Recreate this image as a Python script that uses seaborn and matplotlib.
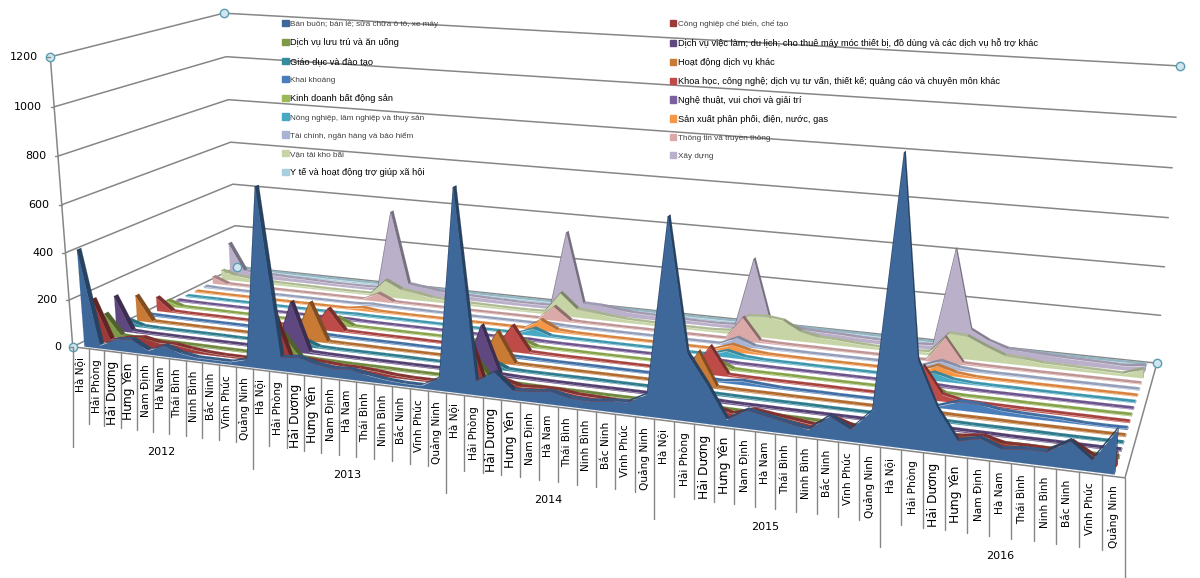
import numpy as np
import matplotlib
matplotlib.use("Agg")
import matplotlib.pyplot as plt
import matplotlib.patches as mpatches
from mpl_toolkits.mplot3d.art3d import Poly3DCollection
from mpl_toolkits.mplot3d import proj3d
import seaborn as sns

years = ['2012', '2013', '2014', '2015', '2016']
provinces = ['Hà Nội', 'Hải Phòng', 'Hải Dương', 'Hưng Yên', 'Nam Định', 'Hà Nam',
             'Thái Bình', 'Ninh Bình', 'Bắc Ninh', 'Vĩnh Phúc', 'Quảng Ninh']
value_ticks = [0, 200, 400, 600, 800, 1000, 1200]

series_names = [
    'Bán buôn; bán lẻ; sửa chữa ô tô, xe máy',
    'Công nghiệp chế biến, chế tạo',
    'Dịch vụ lưu trú và ăn uống',
    'Dịch vụ việc làm; du lịch; cho thuê máy móc thiết bị, đồ dùng và các dịch vụ hỗ trợ khác',
    'Giáo dục và đào tạo',
    'Hoạt động dịch vụ khác',
    'Khai khoáng',
    'Khoa học, công nghệ; dịch vụ tư vấn, thiết kế; quảng cáo và chuyên môn khác',
    'Kinh doanh bất động sản',
    'Nghệ thuật, vui chơi và giải trí',
    'Nông nghiệp, lâm nghiệp và thuỷ sản',
    'Sản xuất phân phối, điện, nước, gas',
    'Tài chính, ngân hàng và bảo hiểm',
    'Thông tin và truyền thông',
    'Vận tải kho bãi',
    'Xây dựng',
    'Y tế và hoạt động trợ giúp xã hội',
]
series_colors = ['#3f689a', '#9c3b39', '#7e9a47', '#5f4880', '#348ca0', '#c97a35',
                 '#4a7ebb', '#be4b48', '#98b954', '#7d60a0', '#46aac5', '#f79646',
                 '#a7b4d3', '#dba9a8', '#c7d5a6', '#bbb0ca', '#a7cfde']

# values, 11 provinces per year
wholesale = [410,12,45,55,15,45,20,10,10,10,30, 740,55,65,45,35,40,25,15,10,10,50, 805,55,100,35,40,50,33,30,40,45,85, 765,260,150,25,70,55,40,25,85,45,125, 1060,330,160,50,70,40,50,50,100,40,160]
manufacturing = [180,12,30,40,25,25,15,8,5,5,5, 230,25,30,25,20,20,15,8,5,5,10, 260,25,45,25,30,30,20,18,15,15,15, 220,60,40,20,45,35,25,15,50,25,40, 210,50,35,40,50,30,32,30,70,25,45]
accommodation = [95,8,4,3,3,3,3,2,2,2,3, 100,8,5,4,3,3,3,2,2,2,3, 100,8,5,4,3,3,3,2,2,2,4, 60,8,5,4,3,3,3,2,2,2,4, 70,9,6,4,3,3,3,3,3,3,5]
employment = [150,6,3,3,2,2,2,2,2,2,2, 210,6,4,3,2,2,2,2,2,2,2, 200,7,4,3,2,2,2,2,2,2,3, 150,8,4,3,3,2,2,2,2,2,3, 120,8,4,3,3,2,2,2,2,2,3]
education = [25,4,2,2,2,2,2,1,1,1,2, 30,4,2,2,2,2,2,1,1,1,2, 35,4,2,2,2,2,2,1,1,1,2, 35,4,3,2,2,2,2,1,1,1,2, 30,4,3,2,2,2,2,1,1,1,2]
other_services = [110,3,2,2,1,1,1,1,1,1,1, 165,3,2,2,1,1,1,1,1,1,1, 130,3,2,2,1,1,1,1,1,1,2, 140,4,2,2,2,1,1,1,1,1,2, 100,4,2,2,2,1,1,1,1,1,2]
mining = [4,3,2,2,2,2,2,1,1,1,2, 5,3,2,2,2,2,1,1,1,1,3, 5,4,3,2,2,2,1,1,1,1,3, 6,4,14,8,3,2,2,1,1,1,4, 6,5,32,30,16,12,10,8,3,2,3]
science = [60,4,2,2,2,1,1,1,1,1,2, 95,4,3,2,2,2,1,1,1,1,2, 110,5,3,2,2,2,1,1,1,1,2, 115,5,3,2,2,2,2,1,1,1,2, 130,25,8,6,5,4,4,3,3,2,2]
real_estate = [25,3,2,2,1,1,1,1,1,1,2, 35,3,2,2,1,1,1,1,1,1,2, 30,4,2,2,1,1,1,1,1,1,2, 35,4,2,2,2,1,1,1,1,1,2, 35,4,2,2,2,1,1,1,1,1,2]
arts = [4,2,1,1,1,1,1,1,1,1,1, 5,2,1,1,1,1,1,1,1,1,1, 5,2,1,1,1,1,1,1,1,1,1, 6,2,2,1,1,1,1,1,1,1,1, 7,3,2,1,1,1,1,1,1,1,1]
agriculture = [3,2,2,1,1,1,1,1,1,1,1, 4,2,2,2,1,1,1,1,1,1,1, 30,4,2,2,1,1,1,1,1,1,1, 25,8,3,2,2,1,1,1,1,1,1, 30,10,3,2,2,1,1,1,1,1,1]
utilities = [3,2,1,1,1,1,1,1,1,1,1, 12,3,2,1,1,1,1,1,1,1,1, 45,8,3,2,1,1,1,1,1,1,1, 28,10,3,2,1,1,1,1,1,1,1, 35,12,4,2,2,1,1,1,1,1,1]
finance = [5,2,2,1,1,1,1,1,1,1,1, 6,3,2,2,1,1,1,1,1,1,1, 7,3,2,2,1,1,1,1,1,1,1, 35,6,2,2,1,1,1,1,1,1,1, 30,10,3,2,2,1,1,1,1,1,1]
information = [30,3,2,2,1,1,1,1,1,1,1, 35,3,2,2,1,1,1,1,1,1,1, 60,4,2,2,1,1,1,1,1,1,1, 100,6,3,2,2,1,1,1,1,1,1, 105,5,3,2,2,1,1,1,1,1,1]
transport = [40,22,14,10,8,7,6,5,5,5,6, 75,40,30,16,12,10,8,7,6,6,8, 100,35,28,18,12,10,8,7,7,7,12, 85,90,80,40,24,20,14,10,9,8,12, 100,95,60,30,25,15,14,12,10,8,35]
construction = [150,25,20,18,15,14,12,10,10,10,12, 370,45,35,25,20,18,15,14,12,12,14, 350,40,38,28,20,18,16,14,12,12,15, 310,45,35,25,22,20,16,14,13,13,18, 430,100,60,35,30,26,22,20,18,15,25]
health = [14,10,8,7,6,6,5,5,5,5,5, 16,10,8,7,6,6,5,5,5,5,6, 16,10,8,7,6,6,5,5,5,5,6, 18,11,9,8,7,6,6,5,5,5,6, 20,12,9,8,7,6,6,5,5,5,6]

all_series = [wholesale, manufacturing, accommodation, employment, education, other_services,
              mining, science, real_estate, arts, agriculture, utilities, finance,
              information, transport, construction, health]

GRID = '#868686'
RIBBON = 0.2  # half depth of one area ribbon
W, H = 1200, 578
n_cat = len(years) * len(provinces)
n_ser = len(all_series)
x_lo, x_hi = -0.5, n_cat - 0.5
y_lo, y_hi = -0.5, n_ser - 0.5
z_hi = value_ticks[-1]

# corners of the chart box and where they sit in the picture, to get Excel's camera
box = [(x_lo, y_lo, 0), (x_hi, y_lo, 0), (x_hi, y_hi, 0), (x_lo, y_hi, 0),
       (x_lo, y_lo, z_hi), (x_lo, y_hi, z_hi), (x_hi, y_hi, z_hi)]
box_px = [(73, 346.5), (1125, 478), (1157, 363), (237, 267),
          (50, 57), (224, 13), (1180, 66)]


def camera():
    norm = np.diag([1 / n_cat, 1 / n_ser, 1 / z_hi, 1.0])
    rows = []
    for (x, y, z), (u, v) in zip(box, box_px):
        p = norm @ np.array([x, y, z, 1.0])
        rows.append(np.r_[p, 0, 0, 0, 0, -u * p])
        rows.append(np.r_[0, 0, 0, 0, p, -v * p])
    P = np.linalg.svd(np.array(rows))[2][-1].reshape(3, 4) @ norm
    return np.vstack([P[0], P[1], [0, 1, 0, 0], P[2]])


sns.set_theme(style='white')
plt.rcParams['font.family'] = ['DejaVu Sans']
palette = sns.color_palette(series_colors)

fig = plt.figure(figsize=(W / 100, H / 100), dpi=100)
ax = fig.add_axes([0, (H - W) / 2 / H, 1, W / H], projection='3d', proj_type='ortho')
ax.set_axis_off()
ax.computed_zorder = False
M = camera()
ax.get_proj = lambda: M
ax.viewLim.intervalx = (0, W)
ax.viewLim.intervaly = ((H + W) / 2, (H - W) / 2)

# walls
for z in value_ticks:
    ax.plot([x_lo, x_lo, x_hi], [y_lo, y_hi, y_hi], [z, z, z], color=GRID, lw=1.1, zorder=1)
ax.plot([x_lo, x_lo], [y_lo, y_lo], [0, z_hi], color=GRID, lw=1.1, zorder=1)
ax.plot([x_lo, x_hi, x_hi], [y_lo, y_lo, y_hi], [0, 0, 0], color=GRID, lw=1.1, zorder=1)

xs = np.arange(n_cat)
for i in range(n_ser - 1, -1, -1):
    vals = np.array(all_series[i], dtype=float)
    col = np.array(palette[i])
    y0, y1 = i - RIBBON, i + RIBBON
    base = 10 + 3 * (n_ser - i)

    tops, cols = [], []
    for k in range(n_cat - 1):
        tops.append([(xs[k], y0, vals[k]), (xs[k + 1], y0, vals[k + 1]),
                     (xs[k + 1], y1, vals[k + 1]), (xs[k], y1, vals[k])])
        steep = min(abs(vals[k + 1] - vals[k]) / 60, 1)
        cols.append(tuple(col * (0.88 - 0.25 * steep)))
    top = Poly3DCollection(tops, facecolors=cols, edgecolors=cols, linewidths=0.1)
    top.set_zorder(base)
    ax.add_collection3d(top)

    cap_col = tuple(col * 0.6)
    cap = Poly3DCollection([[(xs[-1], y0, 0), (xs[-1], y1, 0), (xs[-1], y1, vals[-1]), (xs[-1], y0, vals[-1])]],
                           facecolors=[cap_col], edgecolors=[cap_col], linewidths=0.1)
    cap.set_zorder(base)
    ax.add_collection3d(cap)

    outline = [(xs[0], y0, 0)] + [(x, y0, v) for x, v in zip(xs, vals)] + [(xs[-1], y0, 0)]
    face = tuple(col)
    front = Poly3DCollection([outline], facecolors=[face], edgecolors=[face], linewidths=0.1)
    front.set_zorder(base + 1)
    ax.add_collection3d(front)

# selection handles on the corners
hx, hy, hz = zip(box[0], box[2], box[3], box[4], box[5], box[6])
ax.plot(hx, hy, hz, ls='none', marker='o', ms=6, mfc='#cfe6ef', mec='#5b9cb3', mew=1, zorder=500)


def screen(x, y, z):
    u, v, _ = proj3d.proj_transform(x, y, z, M)
    return u, v


# flat overlay in picture pixels for the 2D axis furniture
ov = fig.add_axes([0, 0, 1, 1])
ov.set_xlim(0, W)
ov.set_ylim(H, 0)
ov.axis('off')
ov.patch.set_alpha(0)

for z in value_ticks:
    u, v = screen(x_lo, y_lo, z)
    ov.text(u - 12, v, str(z), ha='right', va='center', fontsize=8, color='black')
    ov.plot([u - 3, u], [v, v], color=GRID, lw=1)

for k in range(n_cat + 1):
    u, v = screen(k - 0.5, y_lo, 0)
    length = 100 if k % len(provinces) == 0 else 75
    ov.plot([u, u], [v, v + length], color=GRID, lw=1)
label_size = {'Hải Dương': 8.8, 'Hưng Yên': 8.8}
for k in range(n_cat):
    u, v = screen(k, y_lo, 0)
    name = provinces[k % len(provinces)]
    ov.text(u, v + 9, name, rotation=90, ha='center', va='top',
            fontsize=label_size.get(name, 7.6), color='black')
for j, year in enumerate(years):
    u, v = screen(j * len(provinces) + (len(provinces) - 1) / 2, y_lo, 0)
    ov.text(u, v + 94, year, ha='center', va='center', fontsize=8, color='black')

# legend, two columns filled across
small = {0, 1, 6, 10, 12, 13, 14, 15}
for start, anchor in ((0, 0.2352), (1, 0.5582)):
    idx = list(range(start, n_ser, 2))
    handles = [mpatches.Patch(color=series_colors[i], label=series_names[i]) for i in idx]
    leg = fig.legend(handles=handles, loc='upper left', bbox_to_anchor=(anchor, 0.9655), frameon=False,
                     prop={'family': 'Liberation Sans', 'size': 6.7}, labelspacing=1.06,
                     handlelength=0.68, handleheight=0.68, handletextpad=0.15,
                     borderpad=0, borderaxespad=0)
    for i, txt in zip(idx, leg.get_texts()):
        if i in small:
            txt.set_fontsize(5.85)
            txt.set_color('#404040')
        else:
            txt.set_color('black')

fig.savefig('out.png', dpi=100)
